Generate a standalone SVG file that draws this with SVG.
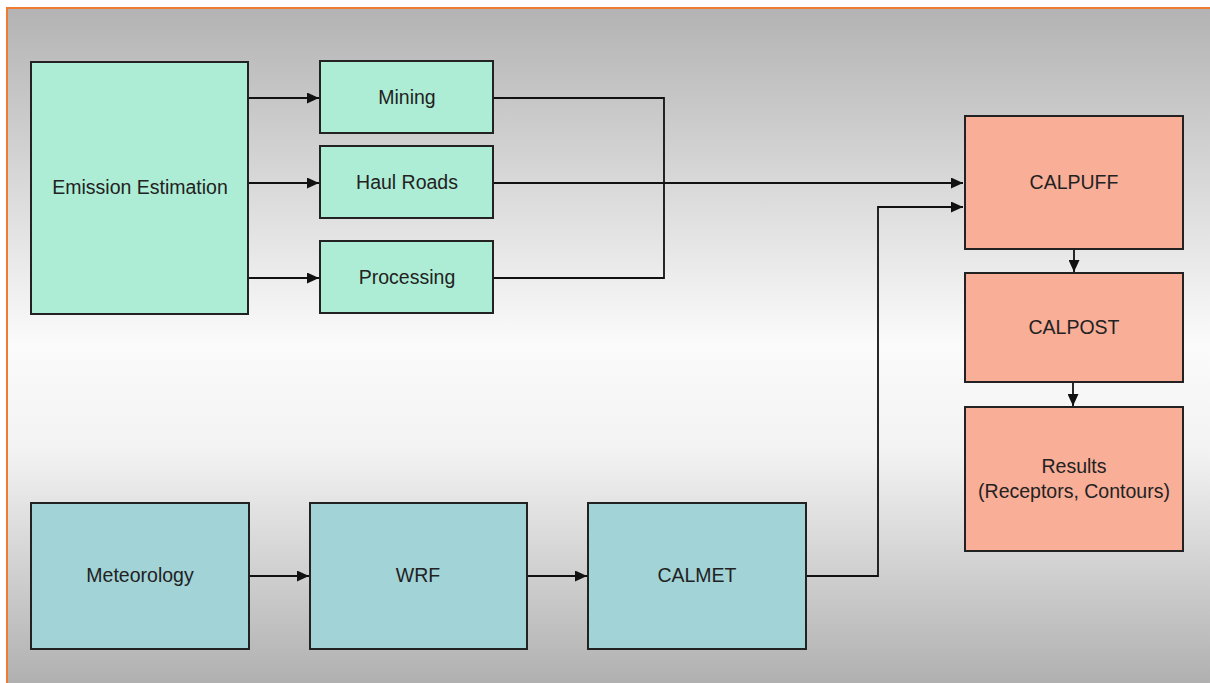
<svg xmlns="http://www.w3.org/2000/svg" width="1210" height="683" viewBox="0 0 1210 683">
<defs>
<linearGradient id="bg" x1="0" y1="0" x2="0" y2="1">
<stop offset="0" stop-color="#b3b3b3"/>
<stop offset="0.5" stop-color="#fbfbfb"/>
<stop offset="0.66" stop-color="#f2f2f2"/>
<stop offset="1" stop-color="#b0b0b0"/>
</linearGradient>
<marker id="ah" markerWidth="12" markerHeight="11" refX="12" refY="5.5" orient="auto" markerUnits="userSpaceOnUse">
<path d="M0,0 L12,5.5 L0,11 Z" fill="#111"/>
</marker>
<style>
.n rect{stroke:#222;stroke-width:2}
.g rect{fill:#aeedd5}
.t rect{fill:#a1d3d7}
.s rect{fill:#f9ae98}
text{font-family:"Liberation Sans",Arial,sans-serif;font-size:19.5px;fill:#222;text-anchor:middle}
.c path{fill:none;stroke:#111;stroke-width:1.8}
.c .a{marker-end:url(#ah)}
</style>
</defs>
<rect x="0" y="0" width="1210" height="683" fill="#ffffff"/>
<rect x="7" y="8" width="1203" height="675" fill="url(#bg)"/>
<path d="M7,683 L7,8 L1210,8" fill="none" stroke="#f07a30" stroke-width="2"/>
<g class="c" id="connectors">
<path class="a" d="M249,98 L319,98"/>
<path class="a" d="M249,183 L319,183"/>
<path class="a" d="M249,278 L319,278"/>
<path d="M493,98 L664,98 L664,278 L493,278"/>
<path class="a" d="M493,183 L963,183"/>
<path class="a" d="M806,576 L878,576 L878,207 L963,207"/>
<path class="a" d="M249,576 L309,576"/>
<path class="a" d="M527,576 L587,576"/>
<path class="a" d="M1074,249 L1074,272"/>
<path class="a" d="M1073,382 L1073,406"/>
</g>
<g id="emission" class="n g"><rect x="31" y="62" width="217" height="252"/><text x="140" y="194">Emission Estimation</text></g>
<g id="mining" class="n g"><rect x="320" y="61" width="173" height="72"/><text x="407" y="104">Mining</text></g>
<g id="haulroads" class="n g"><rect x="320" y="146" width="173" height="72"/><text x="407" y="189">Haul Roads</text></g>
<g id="processing" class="n g"><rect x="320" y="241" width="173" height="72"/><text x="407" y="284">Processing</text></g>
<g id="calpuff" class="n s"><rect x="965" y="116" width="218" height="133"/><text x="1074" y="189">CALPUFF</text></g>
<g id="calpost" class="n s"><rect x="965" y="273" width="218" height="109"/><text x="1074" y="334">CALPOST</text></g>
<g id="results" class="n s"><rect x="965" y="407" width="218" height="144"/><text x="1074" y="473">Results</text><text x="1074" y="498">(Receptors, Contours)</text></g>
<g id="meteorology" class="n t"><rect x="31" y="503" width="218" height="146"/><text x="140" y="582">Meteorology</text></g>
<g id="wrf" class="n t"><rect x="310" y="503" width="217" height="146"/><text x="418" y="582">WRF</text></g>
<g id="calmet" class="n t"><rect x="588" y="503" width="218" height="146"/><text x="697" y="582">CALMET</text></g>
</svg>
